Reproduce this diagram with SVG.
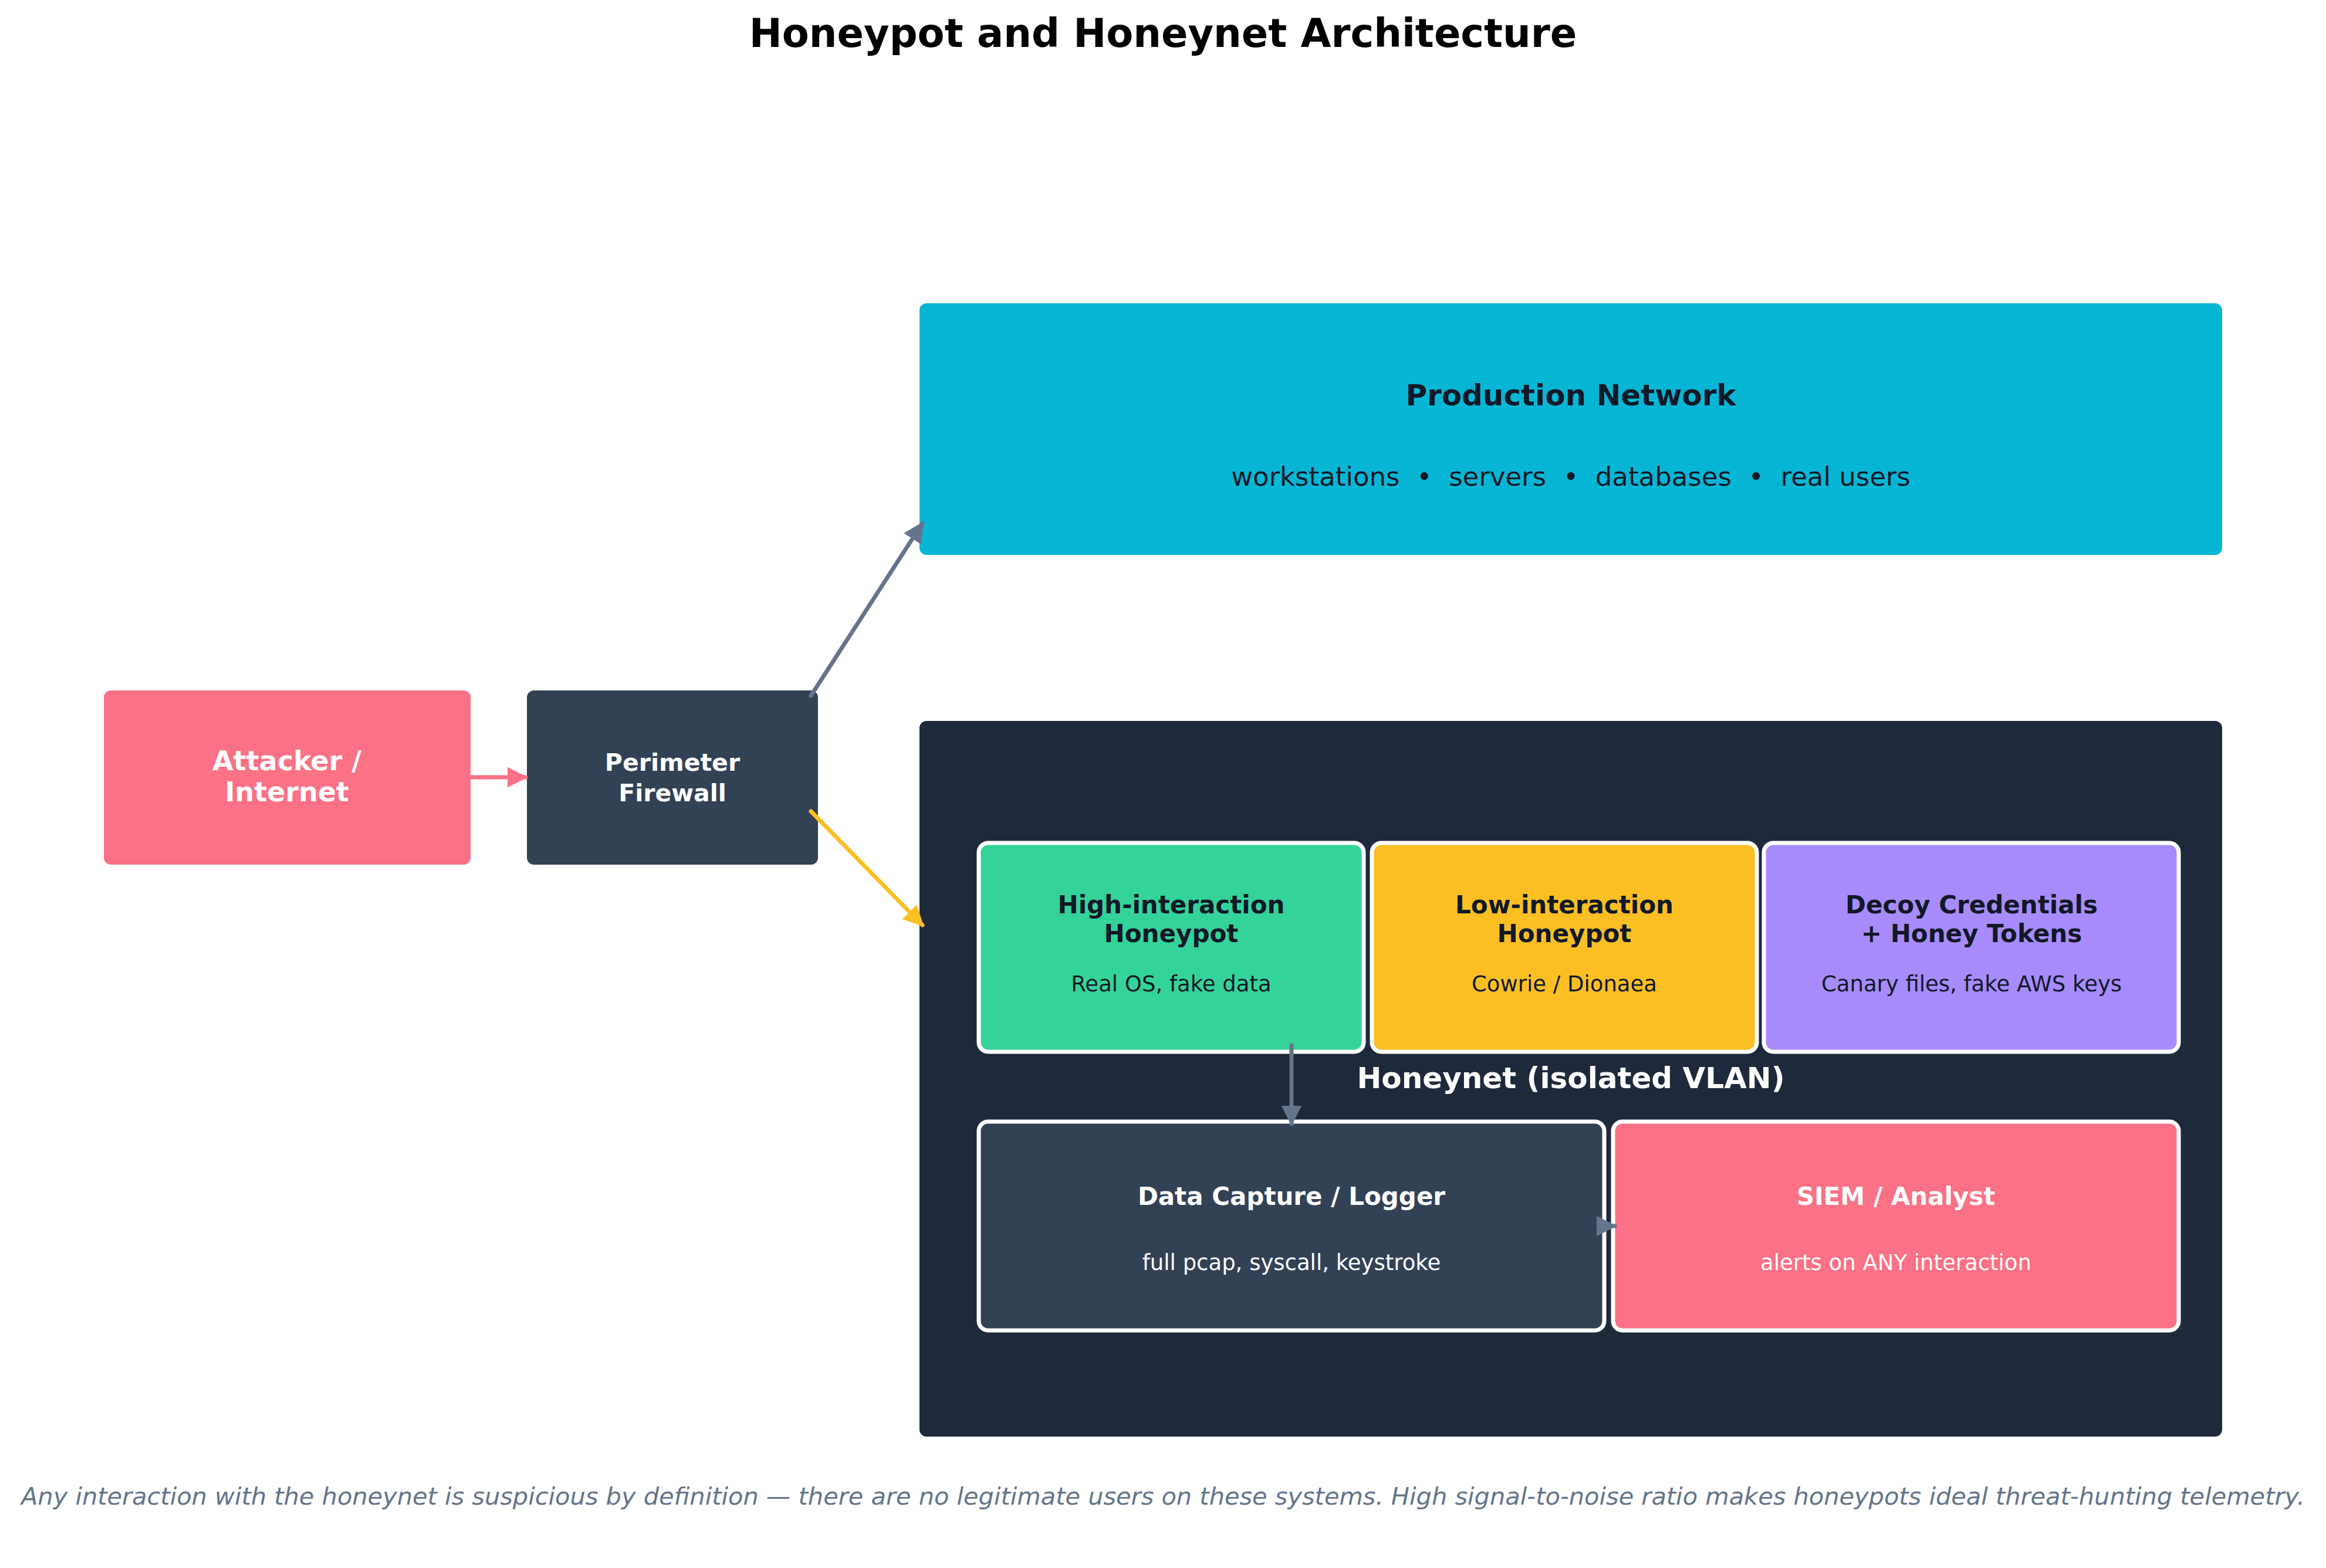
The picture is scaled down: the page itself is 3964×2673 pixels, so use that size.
<svg xmlns="http://www.w3.org/2000/svg" width="3964" height="2673" viewBox="0 0 3964 2673">
<style>
text{font-family:"DejaVu Sans",sans-serif;text-anchor:middle}
.b{font-weight:bold}
.dk{fill:#111827}
.wt{fill:#ffffff}
.in{stroke:#ffffff;stroke-width:7}
.t{font-size:42px;font-weight:bold}
.s{font-size:37px}
</style>
<defs>
<marker id="mg" viewBox="0 0 10 10" refX="9" refY="5" markerWidth="5" markerHeight="5" orient="auto" markerUnits="strokeWidth"><path d="M0,0L10,5L0,10z" fill="#64748b"/></marker>
<marker id="my" viewBox="0 0 10 10" refX="9" refY="5" markerWidth="5" markerHeight="5" orient="auto" markerUnits="strokeWidth"><path d="M0,0L10,5L0,10z" fill="#fbbf24"/></marker>
<marker id="mp" viewBox="0 0 10 10" refX="9" refY="5" markerWidth="5" markerHeight="5" orient="auto" markerUnits="strokeWidth"><path d="M0,0L10,5L0,10z" fill="#fb7185"/></marker>
</defs>
<rect width="3964" height="2673" fill="#ffffff"/>
<text x="1982" y="80" class="b" font-size="67" fill="#000">Honeypot and Honeynet Architecture</text>
<g id="production"><rect x="1567" y="517" width="2220" height="429" rx="12" fill="#06b6d4"/>
<text x="2677" y="691" class="b dk" font-size="50">Production Network</text>
<text x="2677" y="828" class="dk" font-size="45" xml:space="preserve">workstations  •  servers  •  databases  •  real users</text></g>
<g id="honeynet"><rect x="1567" y="1229" width="2220" height="1220" rx="12" fill="#1e293b"/>
<text x="2677" y="1855" class="b wt" font-size="50">Honeynet (isolated VLAN)</text></g>
<g id="attacker"><rect x="177" y="1177" width="625" height="297" rx="12" fill="#fb7185"/>
<text x="489" y="1313" class="b wt" font-size="46">Attacker /</text><text x="489" y="1366" class="b wt" font-size="46">Internet</text></g>
<g id="firewall"><rect x="898" y="1177" width="496" height="297" rx="12" fill="#334155"/>
<text x="1146" y="1314" class="b wt" font-size="41">Perimeter</text><text x="1146" y="1366" class="b wt" font-size="41">Firewall</text></g>
<g id="high"><rect x="1668" y="1437" width="656" height="356" rx="16" fill="#34d399" class="in"/>
<text x="1996" y="1557" class="t dk">High-interaction</text><text x="1996" y="1606" class="t dk">Honeypot</text>
<text x="1996" y="1690" class="s dk">Real OS, fake data</text></g>
<g id="low"><rect x="2338" y="1437" width="656" height="356" rx="16" fill="#fbbf24" class="in"/>
<text x="2666" y="1557" class="t dk">Low-interaction</text><text x="2666" y="1606" class="t dk">Honeypot</text>
<text x="2666" y="1690" class="s dk">Cowrie / Dionaea</text></g>
<g id="decoy"><rect x="3006" y="1437" width="707" height="356" rx="16" fill="#a78bfa" class="in"/>
<text x="3360" y="1557" class="t dk">Decoy Credentials</text><text x="3360" y="1606" class="t dk">+ Honey Tokens</text>
<text x="3360" y="1690" class="s dk">Canary files, fake AWS keys</text></g>
<g id="capture"><rect x="1668" y="1912" width="1066" height="356" rx="16" fill="#334155" class="in"/>
<text x="2201" y="2054" class="t wt">Data Capture / Logger</text>
<text x="2201" y="2165" class="s wt">full pcap, syscall, keystroke</text></g>
<g id="siem"><rect x="2749" y="1912" width="964" height="356" rx="16" fill="#fb7185" class="in"/>
<text x="3231" y="2054" class="t wt">SIEM / Analyst</text>
<text x="3231" y="2165" class="s wt">alerts on ANY interaction</text></g>
<g id="connectors" fill="none" stroke-width="7" stroke-linecap="round">
<line x1="802" y1="1325" x2="896" y2="1325" stroke="#fb7185" marker-end="url(#mp)"/>
<line x1="1382" y1="1186" x2="1572" y2="892" stroke="#64748b" marker-end="url(#mg)"/>
<line x1="1382" y1="1383" x2="1572" y2="1577" stroke="#fbbf24" marker-end="url(#my)"/>
<line x1="2201" y1="1782" x2="2201" y2="1916" stroke="#64748b" marker-end="url(#mg)"/>
<line x1="2725" y1="2090" x2="2752" y2="2090" stroke="#64748b" marker-end="url(#mg)"/>
</g>
<text x="1982" y="2565" font-size="41.5" font-style="italic" fill="#64748b">Any interaction with the honeynet is suspicious by definition — there are no legitimate users on these systems. High signal-to-noise ratio makes honeypots ideal threat-hunting telemetry.</text>
</svg>
